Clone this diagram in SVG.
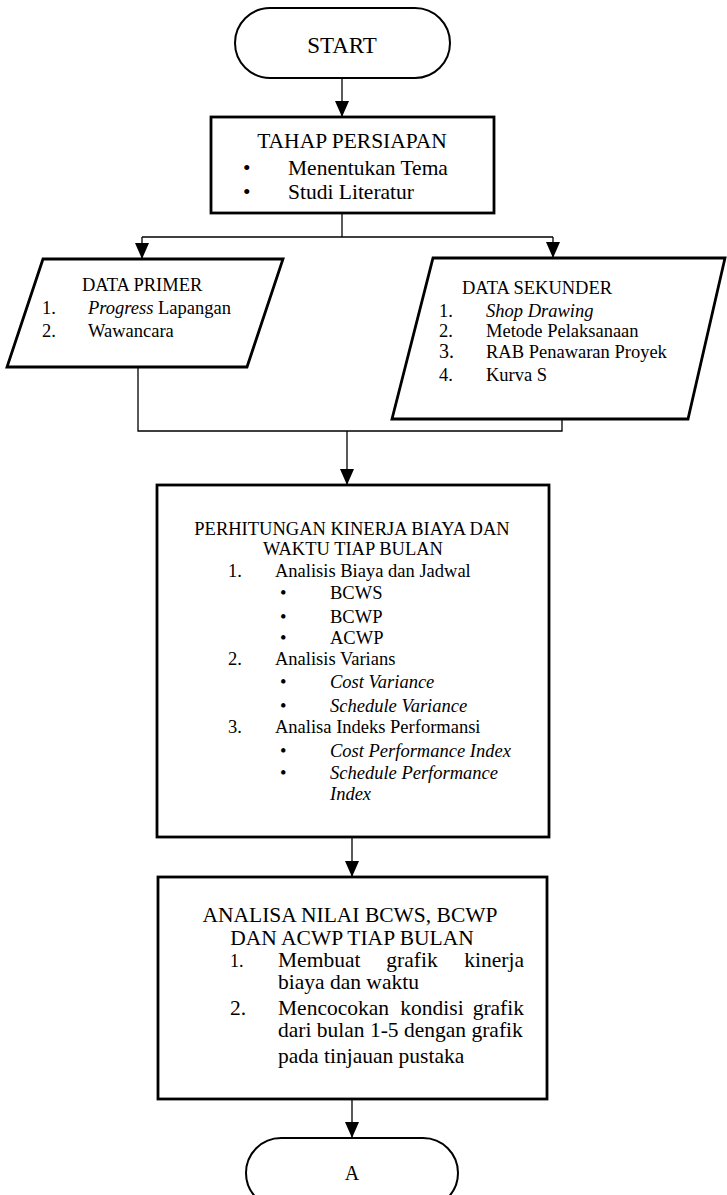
<svg xmlns="http://www.w3.org/2000/svg" width="727" height="1195" viewBox="0 0 727 1195">
<style>
text{font-family:"Liberation Serif","Times New Roman",serif;fill:#000}
.t{font-size:18.5px}
.b{font-size:21.5px}
.i{font-style:italic}
.m{text-anchor:middle}
.box{fill:#fff;stroke:#000;stroke-width:2.8}
.term{fill:#fff;stroke:#000;stroke-width:2}
.con{fill:none;stroke:#000;stroke-width:1.3}
</style>
<defs>
<marker id="arr" viewBox="0 0 16 14" refX="16" refY="7" markerWidth="16" markerHeight="14" orient="auto" markerUnits="userSpaceOnUse"><path d="M0,0 L16,7 L0,14 z" fill="#000"/></marker>
</defs>
<g id="connectors">
<line class="con" x1="342" y1="78" x2="342" y2="117" marker-end="url(#arr)"/>
<polyline class="con" points="342,213 342,237"/>
<polyline class="con" points="142,237 553,237"/>
<line class="con" x1="142" y1="237" x2="142" y2="259" marker-end="url(#arr)"/>
<line class="con" x1="553" y1="237" x2="553" y2="258" marker-end="url(#arr)"/>
<polyline class="con" points="138,367 138,431 562,431 562,419"/>
<line class="con" x1="347" y1="431" x2="347" y2="485" marker-end="url(#arr)"/>
<line class="con" x1="352" y1="837" x2="352" y2="877" marker-end="url(#arr)"/>
<line class="con" x1="352" y1="1099" x2="352" y2="1138" marker-end="url(#arr)"/>
</g>
<g id="start">
<rect class="term" x="235" y="8" width="215" height="70" rx="35"/>
<text class="m" x="342" y="53" style="font-size:23px">START</text>
</g>
<g id="persiapan">
<rect class="box" x="211" y="117" width="283" height="96"/>
<text class="b m" x="352" y="148">TAHAP PERSIAPAN</text>
<text class="b" x="243" y="175">•</text>
<text class="b" x="288" y="175">Menentukan Tema</text>
<text class="b" x="243" y="199">•</text>
<text class="b" x="288" y="199">Studi Literatur</text>
</g>
<g id="primer">
<polygon class="box" points="43,259 283,259 247,367 7,367"/>
<text class="t" x="82" y="291">DATA PRIMER</text>
<text class="t" x="42" y="314">1.</text>
<text class="t" x="88" y="314"><tspan class="i">Progress</tspan> Lapangan</text>
<text class="t" x="42" y="337">2.</text>
<text class="t" x="88" y="337">Wawancara</text>
</g>
<g id="sekunder">
<polygon class="box" points="433,258 725,258 688,419 392,419"/>
<text class="t" x="462" y="294">DATA SEKUNDER</text>
<text class="t" x="439" y="317">1.</text>
<text class="t i" x="486" y="317">Shop Drawing</text>
<text class="t" x="439" y="337">2.</text>
<text class="t" x="486" y="337">Metode Pelaksanaan</text>
<text x="439" y="358" style="font-size:20px">3.</text>
<text class="t" x="486" y="358">RAB Penawaran Proyek</text>
<text class="t" x="439" y="381">4.</text>
<text class="t" x="486" y="381">Kurva S</text>
</g>
<g id="perhitungan">
<rect class="box" x="157" y="485" width="392" height="352"/>
<text class="t m" x="352" y="535">PERHITUNGAN KINERJA BIAYA DAN</text>
<text class="t m" x="353" y="555">WAKTU TIAP BULAN</text>
<text class="t" x="228" y="577">1.</text>
<text class="t" x="275" y="577">Analisis Biaya dan Jadwal</text>
<text class="t" x="280" y="599">•</text>
<text class="t" x="330" y="599">BCWS</text>
<text class="t" x="280" y="623">•</text>
<text class="t" x="330" y="623">BCWP</text>
<text class="t" x="280" y="644">•</text>
<text class="t" x="330" y="644">ACWP</text>
<text class="t" x="228" y="665">2.</text>
<text class="t" x="275" y="665">Analisis Varians</text>
<text class="t" x="280" y="688">•</text>
<text class="t i" x="330" y="688">Cost Variance</text>
<text class="t" x="280" y="712">•</text>
<text class="t i" x="330" y="712">Schedule Variance</text>
<text class="t" x="228" y="733">3.</text>
<text class="t" x="275" y="733">Analisa Indeks Performansi</text>
<text class="t" x="280" y="757">•</text>
<text class="t i" x="330" y="757">Cost Performance Index</text>
<text class="t" x="280" y="779">•</text>
<text class="t i" x="330" y="779">Schedule Performance</text>
<text class="t i" x="330" y="800">Index</text>
</g>
<g id="analisa">
<rect class="box" x="158" y="877" width="389" height="222"/>
<text class="b m" x="350" y="922">ANALISA NILAI BCWS, BCWP</text>
<text class="b m" x="352" y="945">DAN ACWP TIAP BULAN</text>
<text x="230" y="967" style="font-size:18px">1.</text>
<text class="b" x="278" y="967">Membuat</text>
<text class="b m" x="412" y="967">grafik</text>
<text class="b" x="524" y="967" text-anchor="end">kinerja</text>
<text class="b" x="278" y="989">biaya dan waktu</text>
<text class="b" x="230" y="1015">2.</text>
<text class="b" x="278" y="1015">Mencocokan</text>
<text class="b m" x="432" y="1015">kondisi</text>
<text class="b" x="524" y="1015" text-anchor="end">grafik</text>
<text class="b" x="278" y="1037">dari bulan 1-5 dengan grafik</text>
<text class="b" x="278" y="1063">pada tinjauan pustaka</text>
</g>
<g id="a">
<rect class="term" x="246" y="1138" width="212" height="70" rx="35"/>
<text class="m" x="352" y="1180" style="font-size:20px">A</text>
</g>
</svg>
